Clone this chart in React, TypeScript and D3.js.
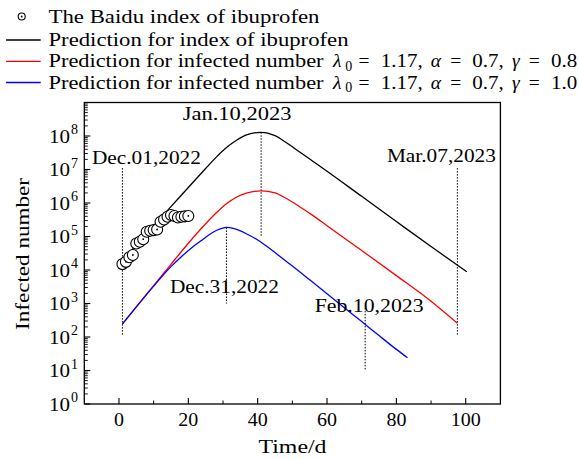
import React from 'react';
import * as d3 from 'd3';

// ---- data ----
const baiduDays = [1, 2, 3, 4, 5, 6, 7, 8, 9, 10, 11, 12, 13, 14, 15, 16, 17, 18, 19, 20];
const baiduIndex = [1.5e4, 1.75e4, 2.4e4, 2.8e4, 6.2e4, 7.0e4, 8.3e4, 1.38e5, 1.48e5, 1.55e5, 1.62e5, 2.75e5, 3.2e5, 3.9e5, 4.4e5, 4.1e5, 3.7e5, 3.9e5, 4.0e5, 4.1e5];

const blackDays = [1, 5, 10, 15, 20, 25, 28, 31, 34, 37, 41, 45, 48, 52, 56, 60, 70, 80, 90, 100.3];
const blackValues = [1.95e4, 5.6e4, 2.1e5, 7.8e5, 2.9e6, 1.07e7, 2.3e7, 4.5e7, 7.6e7, 1.1e8, 1.29e8, 1.02e8, 6.6e7, 3.4e7, 1.74e7, 8.9e6, 1.58e6, 2.8e5, 5.0e4, 8.9e3];

const redDays = [1, 5, 10, 15, 20, 25, 28, 31, 34, 37, 41, 45, 48, 52, 56, 60, 70, 80, 90, 97.6];
const redValues = [245, 794, 3.4e3, 1.48e4, 6.3e4, 2.4e5, 5.0e5, 9.5e5, 1.51e6, 2.0e6, 2.3e6, 2.0e6, 1.41e6, 7.9e5, 4.2e5, 2.1e5, 3.8e4, 6.8e3, 1.17e3, 257];

const blueDays = [1, 5, 10, 15, 18, 21, 24, 27, 29, 31, 33, 35, 37, 40, 43, 46, 50, 55, 60, 65, 70, 75, 80, 83.2];
const blueValues = [245, 794, 3.3e3, 1.26e4, 2.5e4, 4.6e4, 7.9e4, 1.32e5, 1.66e5, 1.86e5, 1.74e5, 1.48e5, 1.17e5, 7.9e4, 4.8e4, 2.75e4, 1.32e4, 5.1e3, 1.95e3, 741, 288, 110, 42.7, 24];

const xTickValues = [0, 20, 40, 60, 80, 100];
const xMinorTickValues = [10, 30, 50, 70, 90];
const yTickExponents = [0, 1, 2, 3, 4, 5, 6, 7, 8];

const annotationLabels = ['Dec.01,2022', 'Jan.10,2023', 'Dec.31,2022', 'Feb.10,2023', 'Mar.07,2023'];
const annotationDays = [1, 41, 31, 71, 97.6];
const annotationTop = [1.1e7, 1.29e8, 1.86e5, 740, 1.1e7];
const annotationBottom = [115, 9.8e4, 1.0e3, 10, 110];

const legendLabels = [
  'The Baidu index of ibuprofen',
  'Prediction for index of ibuprofen',
  'Prediction for infected number',
  'Prediction for infected number',
];
const legendLambda = '1.17';
const legendAlpha = '0.7';
const legendGammas = ['0.8', '1.0'];
const seriesColors = ['#000000', '#ff0000', '#0000ff'];

const FONT = "'Liberation Serif', 'Times New Roman', serif";

export default function App() {
  const W = 579, H = 459;
  const x = d3.scaleLinear().domain([-10, 110]).range([84.3, 500.4]);
  const y = d3.scaleLog().domain([1, 1e9]).range([404, 102.5]);
  const line = d3.line<[number, number]>()
    .x(d => x(d[0]))
    .y(d => y(d[1]))
    .curve(d3.curveMonotoneX);

  const series = [
    { days: blackDays, vals: blackValues, color: seriesColors[0] },
    { days: redDays, vals: redValues, color: seriesColors[1] },
    { days: blueDays, vals: blueValues, color: seriesColors[2] },
  ];

  const minorY: number[] = [];
  for (let e = 0; e < 9; e++) for (let m = 2; m <= 9; m++) minorY.push(m * Math.pow(10, e));

  // annotation label placements (pixel offsets relative to line x)
  const annLabelPos = [
    { dx: 24, by: 164 },
    { dx: -24, by: 120 },
    { dx: -2, by: 293 },
    { dx: 4, by: 312 },
    { dx: -16, by: 162 },
  ];

  const legendRowY = [16.5, 40, 61.3, 82.5];
  const legendTextLen = [271, 300, 275, 275];
  const fs = 19.5;
  const em = 21; // math layout unit
  const mx = 333; // math start

  return (
    <svg width={W} height={H} style={{ position: 'absolute', left: 0, top: 0, background: '#fff' }}
      fontFamily={FONT}>
      <rect x={0} y={0} width={W} height={H} fill="#fff" />

      {/* Legend */}
      <g>
        <circle cx={21.7} cy={legendRowY[0]} r={3.5} fill="#fff" stroke="#000" strokeWidth={1.1} />
        <circle cx={21.7} cy={legendRowY[0]} r={0.9} fill="#000" />
        <text x={48.5} y={legendRowY[0] + 6} fontSize={fs} textLength={legendTextLen[0]} lengthAdjust="spacingAndGlyphs">{legendLabels[0]}</text>
        {[1, 2, 3].map(i => (
          <g key={i}>
            <line x1={6} x2={40.7} y1={legendRowY[i]} y2={legendRowY[i]} stroke={seriesColors[i - 1]} strokeWidth={1.3} />
            <text x={48.5} y={legendRowY[i] + 6} fontSize={fs} textLength={legendTextLen[i]} lengthAdjust="spacingAndGlyphs">{legendLabels[i]}</text>
          </g>
        ))}
        {[0, 1].map(i => {
          const by = legendRowY[2 + i] + 6;
          return (
            <g key={'m' + i} fontSize={fs}>
              <text x={mx} y={by} fontStyle="italic">λ</text>
              <text x={mx + 0.583 * em} y={by + 3.5} fontSize={14}>0</text>
              <text x={mx + 1.215 * em} y={by}>=</text>
              <text x={mx + 2.271 * em} y={by} textLength={2.0 * em} lengthAdjust="spacingAndGlyphs">{legendLambda + ','}</text>
              <text x={mx + 4.66 * em} y={by} fontStyle="italic">α</text>
              <text x={mx + 5.578 * em} y={by}>=</text>
              <text x={mx + 6.634 * em} y={by} textLength={1.5 * em} lengthAdjust="spacingAndGlyphs">{legendAlpha + ','}</text>
              <text x={mx + 8.523 * em} y={by} fontStyle="italic">γ</text>
              <text x={mx + 9.319 * em} y={by}>=</text>
              <text x={mx + 10.375 * em} y={by} textLength={1.25 * em} lengthAdjust="spacingAndGlyphs">{legendGammas[i]}</text>
            </g>
          );
        })}
      </g>

      {/* Frame */}
      <rect x={x(-10)} y={y(1e9)} width={x(110) - x(-10)} height={y(1) - y(1e9)} fill="none" stroke="#000" strokeWidth={1.3} />

      {/* X ticks */}
      {xTickValues.map(v => (
        <g key={'xt' + v}>
          <line x1={x(v)} x2={x(v)} y1={y(1)} y2={y(1) - 6} stroke="#000" strokeWidth={1.1} />
          <text x={x(v)} y={425.5} textAnchor="middle" fontSize={fs}
            textLength={String(v).length * 10} lengthAdjust="spacingAndGlyphs">{v}</text>
        </g>
      ))}
      {xMinorTickValues.map(v => (
        <line key={'xm' + v} x1={x(v)} x2={x(v)} y1={y(1)} y2={y(1) - 3.5} stroke="#000" strokeWidth={1} />
      ))}

      {/* Y ticks */}
      {yTickExponents.map(e => (
        <g key={'yt' + e}>
          <line x1={x(-10)} x2={x(-10) + 6} y1={y(Math.pow(10, e))} y2={y(Math.pow(10, e))} stroke="#000" strokeWidth={1.1} />
          <text x={70} y={y(Math.pow(10, e)) + 6.5} textAnchor="end" fontSize={fs}
            textLength={21} lengthAdjust="spacingAndGlyphs">10</text>
          <text x={71} y={y(Math.pow(10, e)) - 2} textAnchor="start" fontSize={14}>{e}</text>
        </g>
      ))}
      {minorY.map((v, i) => (
        <line key={'ym' + i} x1={x(-10)} x2={x(-10) + 3.5} y1={y(v)} y2={y(v)} stroke="#000" strokeWidth={0.9} />
      ))}

      {/* Axis labels */}
      <text x={292.5} y={453} textAnchor="middle" fontSize={fs} textLength={68} lengthAdjust="spacingAndGlyphs">Time/d</text>
      <text transform={`translate(29,254) rotate(-90)`} textAnchor="middle" fontSize={fs}
        textLength={152} lengthAdjust="spacingAndGlyphs">Infected number</text>

      {/* Annotation dotted lines */}
      {annotationDays.map((d, i) => (
        <line key={'al' + i} x1={x(d)} x2={x(d)} y1={y(annotationTop[i])} y2={y(annotationBottom[i])}
          stroke="#000" strokeWidth={1} strokeDasharray="1.5,1.5" />
      ))}

      {/* Curves */}
      {series.map((s, i) => (
        <path key={'s' + i} d={line(s.days.map((d, j) => [d, s.vals[j]] as [number, number])) || ''}
          fill="none" stroke={s.color} strokeWidth={1.3} />
      ))}

      {/* Baidu index points */}
      {baiduDays.map((d, i) => (
        <g key={'p' + i}>
          <circle cx={x(d)} cy={y(baiduIndex[i])} r={5.5} fill="#fff" stroke="#000" strokeWidth={1.1} />
          <circle cx={x(d)} cy={y(baiduIndex[i])} r={0.9} fill="#000" />
        </g>
      ))}

      {/* Annotation labels */}
      {annotationLabels.map((t, i) => (
        <text key={'at' + i} x={x(annotationDays[i]) + annLabelPos[i].dx} y={annLabelPos[i].by}
          textAnchor="middle" fontSize={fs} textLength={109} lengthAdjust="spacingAndGlyphs">{t}</text>
      ))}
    </svg>
  );
}
